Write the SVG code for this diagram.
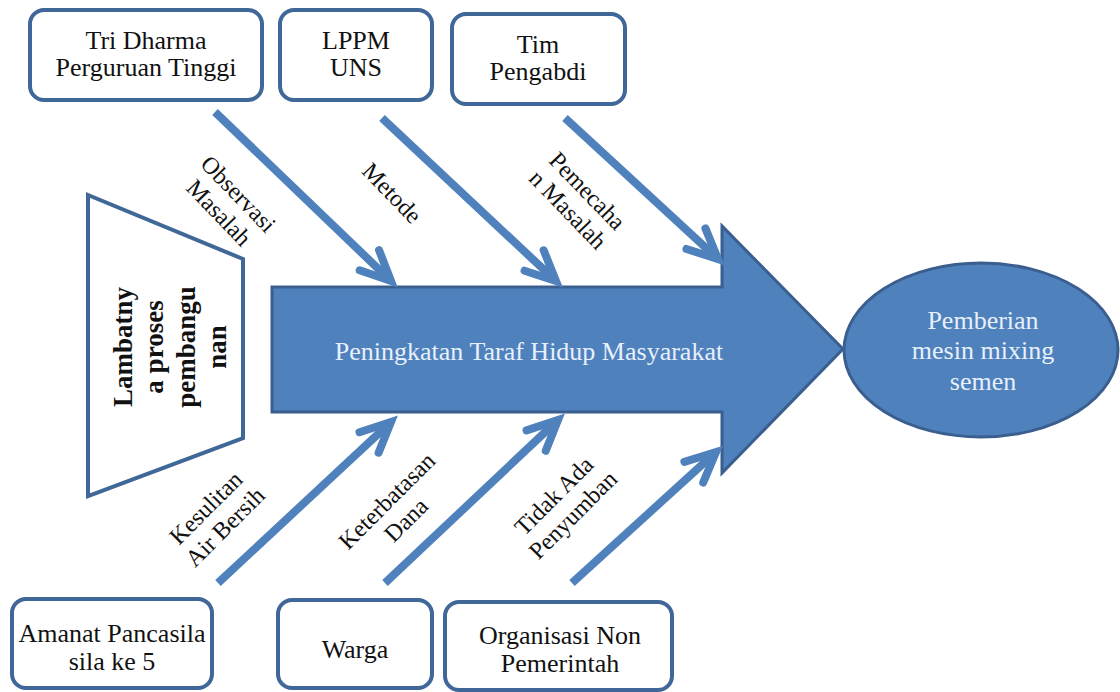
<svg xmlns="http://www.w3.org/2000/svg" width="1120" height="692" viewBox="0 0 1120 692">
<style>
.box{fill:#fff;stroke:#3f6797;stroke-width:4}
.t,.lt,.w,.b{font-family:"Liberation Serif",Tinos,"Times New Roman","DejaVu Serif",serif;text-anchor:middle}
.t{font-size:26px;fill:#111}
.lt{font-size:24px;fill:#111}
.w{font-size:26px;fill:#e8f0fb}
.b{font-size:27px;font-weight:bold;fill:#111}
.c{fill:none;stroke:#4f81bd;stroke-width:8}
</style>
<defs>
<marker id="ah" markerUnits="userSpaceOnUse" markerWidth="60" markerHeight="60" refX="0" refY="0" viewBox="-40 -30 50 60" orient="auto">
<path d="M-30,-14 L0,0 L-30,14" fill="none" stroke="#4f81bd" stroke-width="8" stroke-linecap="round" stroke-linejoin="miter"/>
</marker>
</defs>
<rect width="1120" height="692" fill="#fff"/>

<g id="main-arrow">
<path d="M272,287 L722,287 L722,226 L843,349 L722,473 L722,412 L272,412 Z" fill="#4f81bd" stroke="#3a5f8f" stroke-width="3"/>
<text class="w" x="529" y="360">Peningkatan Taraf Hidup Masyarakat</text>
</g>

<g id="result">
<ellipse cx="981" cy="350" rx="137" ry="87" fill="#4f81bd" stroke="#3a5f8f" stroke-width="3"/>
<text class="w" x="983" y="329">Pemberian</text>
<text class="w" x="983" y="359">mesin mixing</text>
<text class="w" x="983" y="390">semen</text>
</g>

<g id="problem">
<path d="M88,195 L243,259 L243,438 L88,496 Z" fill="#fff" stroke="#3f6797" stroke-width="4"/>
<g transform="translate(168,347) rotate(-90)">
<text class="b" x="0" y="-36">Lambatny</text>
<text class="b" x="0" y="-5">a proses</text>
<text class="b" x="0" y="27">pembangu</text>
<text class="b" x="0" y="58">nan</text>
</g>
</g>

<g id="box-tri-dharma">
<rect class="box" x="30" y="10" width="232" height="90" rx="14"/>
<text class="t" x="146" y="49">Tri Dharma</text>
<text class="t" x="146" y="76">Perguruan Tinggi</text>
</g>
<g id="box-lppm">
<rect class="box" x="280" y="10" width="152" height="90" rx="14"/>
<text class="t" x="356" y="49">LPPM</text>
<text class="t" x="356" y="76">UNS</text>
</g>
<g id="box-tim">
<rect class="box" x="452" y="14" width="173" height="90" rx="14"/>
<text class="t" x="538" y="53">Tim</text>
<text class="t" x="538" y="80">Pengabdi</text>
</g>
<g id="box-amanat">
<rect class="box" x="12" y="599" width="200" height="89" rx="14"/>
<text class="t" x="112" y="642">Amanat Pancasila</text>
<text class="t" x="112" y="670">sila ke 5</text>
</g>
<g id="box-warga">
<rect class="box" x="278" y="600" width="154" height="88" rx="14"/>
<text class="t" x="355" y="658">Warga</text>
</g>
<g id="box-ornop">
<rect class="box" x="445" y="602" width="227" height="88" rx="14"/>
<text class="t" x="560" y="644">Organisasi Non</text>
<text class="t" x="560" y="672">Pemerintah</text>
</g>

<g id="connectors">
<line class="c" x1="215" y1="112" x2="391" y2="281" marker-end="url(#ah)"/>
<line class="c" x1="382" y1="118" x2="556" y2="281" marker-end="url(#ah)"/>
<line class="c" x1="565" y1="118" x2="718" y2="259" marker-end="url(#ah)"/>
<line class="c" x1="218" y1="583" x2="391" y2="422" marker-end="url(#ah)"/>
<line class="c" x1="385" y1="583" x2="558" y2="420" marker-end="url(#ah)"/>
<line class="c" x1="572" y1="583" x2="716" y2="452" marker-end="url(#ah)"/>
</g>

<g id="labels">
<g transform="translate(229,203) rotate(46)">
<text class="lt" x="0" y="-5">Observasi</text>
<text class="lt" x="0" y="22">Masalah</text>
</g>
<g transform="translate(392,193) rotate(46)">
<text class="lt" x="0" y="8">Metode</text>
</g>
<g transform="translate(578,200) rotate(46)">
<text class="lt" x="0" y="-5">Pemecaha</text>
<text class="lt" x="0" y="22">n Masalah</text>
</g>
<g transform="translate(215,517) rotate(-45)">
<text class="lt" x="0" y="-5">Kesulitan</text>
<text class="lt" x="0" y="22">Air Bersih</text>
</g>
<g transform="translate(396,510) rotate(-45)">
<text class="lt" x="0" y="-5">Keterbatasan</text>
<text class="lt" x="0" y="22">Dana</text>
</g>
<g transform="translate(563,505) rotate(-45)">
<text class="lt" x="0" y="-5">Tidak Ada</text>
<text class="lt" x="0" y="22">Penyumban</text>
</g>
</g>
</svg>
